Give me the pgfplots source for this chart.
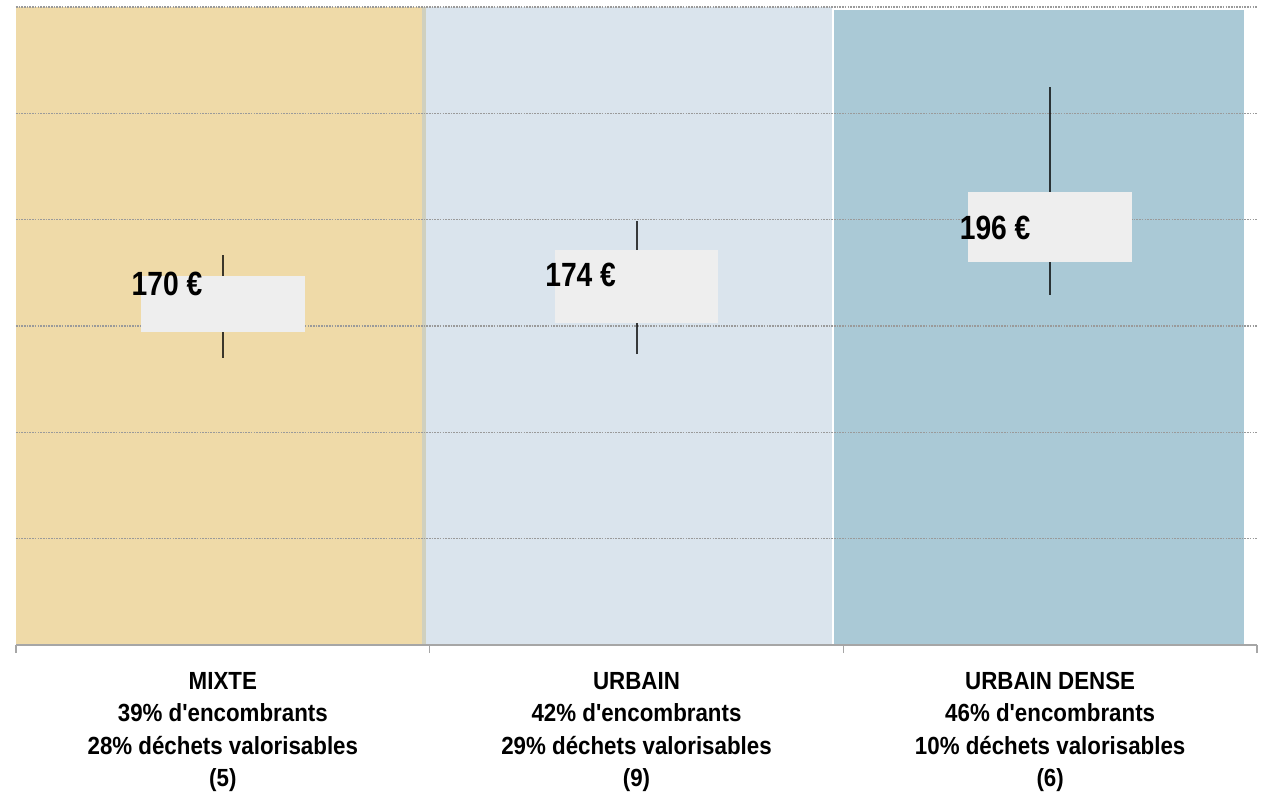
\documentclass[border=0pt]{standalone}
\usepackage{fontspec}
\usepackage{pgfplots}
\pgfplotsset{compat=1.18}
\setmainfont{Liberation Sans}
\newfontfamily\tickfont{Liberation Sans}[FakeStretch=0.9]
\newfontfamily\valfont{Liberation Sans}[FakeStretch=0.84]

\definecolor{mixte}{HTML}{EFDAA8}
\definecolor{urbain}{HTML}{DAE4ED}
\definecolor{dense}{HTML}{AAC9D6}
\definecolor{edge}{HTML}{D0D0BE}
\definecolor{boxgray}{HTML}{EEEEEE}
\definecolor{gridgray}{HTML}{A6A6A6}
\definecolor{dotgray}{HTML}{9A9A9A}

\begin{document}
\begin{tikzpicture}
\useasboundingbox (0,0) rectangle (631.5pt,396pt);
\begin{axis}[
    at={(8pt,73.5pt)}, anchor=south west,
    scale only axis,
    width=620.5pt, height=319pt,
    xmin=0, xmax=3,
    ymin=0, ymax=300,
    axis on top,
    clip=false,
    axis x line*=bottom,
    axis y line=none,
    x axis line style={draw=gridgray, line width=1pt, -},
    xtick={0,1,2,3},
    xticklabels={
        {MIXTE\\39\% d'encombrants\\28\% déchets valorisables\\(5)},
        {URBAIN\\42\% d'encombrants\\29\% déchets valorisables\\(9)},
        {URBAIN DENSE\\46\% d'encombrants\\10\% déchets valorisables\\(6)}},
    x tick label as interval,
    xtick align=outside,
    major tick length=4pt,
    tick style={draw=gridgray, line width=0.75pt},
    x tick label style={align=center, text=black, yshift=-6pt,
        font=\tickfont\bfseries\fontsize{12.4}{16.25}\selectfont},
    ytick=\empty,
    grid line/.style={dotgray, line width=0.6pt, dash pattern=on 0.8pt off 0.55pt},
    whisk/.style={black, opacity=0.75, line width=1pt},
    box/.style={fill=boxgray, draw=none},
]
% background bars
\addplot[fill=mixte, draw=none] coordinates {(0,0) (0,300) (0.9815,300) (0.9815,0)} -- cycle;
\addplot[fill=edge, draw=none] coordinates {(0.9815,0) (0.9815,300) (0.9911,300) (0.9911,0)} -- cycle;
\addplot[fill=urbain, draw=none] coordinates {(0.9911,0) (0.9911,300) (1.9726,300) (1.9726,0)} -- cycle;
\addplot[fill=dense, draw=none] coordinates {(1.9774,0) (1.9774,298.6) (2.9686,298.6) (2.9686,0)} -- cycle;

% dotted grid lines over the bars
\addplot[grid line] coordinates {(0,50) (3,50)};
\addplot[grid line] coordinates {(0,100) (3,100)};
\addplot[grid line] coordinates {(0,150) (3,150)};
\addplot[grid line] coordinates {(0,200) (3,200)};
\addplot[grid line] coordinates {(0,250) (3,250)};
\addplot[grid line] coordinates {(0,300) (3,300)};

% whiskers (min - max)
\addplot[whisk] coordinates {(0.5,135) (0.5,183.4)};
\addplot[whisk] coordinates {(1.5,136.8) (1.5,199.4)};
\addplot[whisk] coordinates {(2.5,164.6) (2.5,262.4)};

% boxes
\addplot[box] coordinates {(0.302,147.4) (0.698,147.4) (0.698,173.5) (0.302,173.5)} -- cycle;
\addplot[box] coordinates {(1.302,151.4) (1.698,151.4) (1.698,185.7) (1.302,185.7)} -- cycle;
\addplot[box] coordinates {(2.302,180.1) (2.698,180.1) (2.698,213) (2.302,213)} -- cycle;

% value labels
\addplot[draw=none, nodes near coords, point meta=explicit symbolic,
    every node near coord/.style={anchor=center, text=black,
        font=\valfont\bfseries\fontsize{16.8}{20}\selectfont}]
    coordinates {(0.365,170) [170 €] (1.365,174) [174 €] (2.367,196) [196 €]};
\end{axis}
\end{tikzpicture}
\end{document}
